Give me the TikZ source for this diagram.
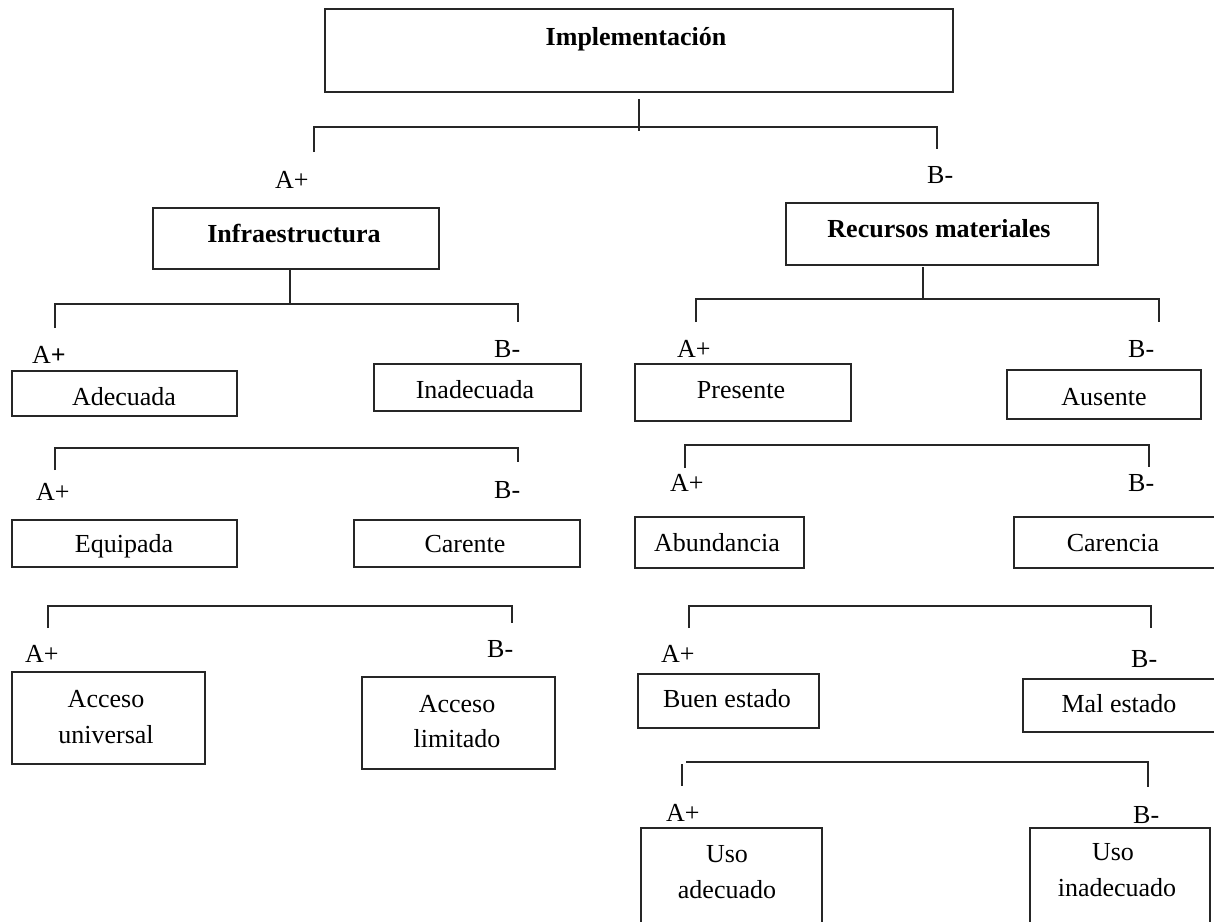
\documentclass[tikz,border=0pt]{standalone}
\usepackage{fontspec}
\setmainfont{Liberation Serif}
\definecolor{linec}{RGB}{38,38,38}
\newcommand\fs{\fontsize{26}{36}\selectfont}
\tikzset{
  box/.style={draw=linec, line width=1.4pt, rectangle, inner sep=0pt, outer sep=0pt, anchor=north west},
  lbl/.style={anchor=base west, inner sep=0pt, font=\fs},
  txt/.style={anchor=base, inner sep=0pt, font=\fs},
  txtb/.style={anchor=base, inner sep=0pt, font=\fs\bfseries},
  conn/.style={draw=linec, line width=1.4pt},
}
\begin{document}
\begin{tikzpicture}[x=1pt,y=-1pt]
\useasboundingbox (0,0) rectangle (1214,921);
\clip (0,0) rectangle (1214,921);
% ---------- boxes ----------
\node[box, minimum width=628pt, minimum height=83pt] (impl)  at (325,9)   {};
\node[box, minimum width=286pt, minimum height=61pt] (infra) at (153,208) {};
\node[box, minimum width=312pt, minimum height=62pt] (rec)   at (786,203) {};
\node[box, minimum width=225pt, minimum height=45pt] (adec)  at (12,371)  {};
\node[box, minimum width=207pt, minimum height=47pt] (inad)  at (374,364) {};
\node[box, minimum width=216pt, minimum height=57pt] (pres)  at (635,364) {};
\node[box, minimum width=194pt, minimum height=49pt] (aus)   at (1007,370){};
\node[box, minimum width=225pt, minimum height=47pt] (equip) at (12,520)  {};
\node[box, minimum width=226pt, minimum height=47pt] (car)   at (354,520) {};
\node[box, minimum width=169pt, minimum height=51pt] (abund) at (635,517) {};
\node[box, minimum width=206pt, minimum height=51pt] (carc)  at (1014,517){};
\node[box, minimum width=193pt, minimum height=92pt] (accu)  at (12,672)  {};
\node[box, minimum width=193pt, minimum height=92pt] (accl)  at (362,677) {};
\node[box, minimum width=181pt, minimum height=54pt] (buen)  at (638,674) {};
\node[box, minimum width=197pt, minimum height=53pt] (mal)   at (1023,679){};
\node[box, minimum width=181pt, minimum height=102pt] (usoa) at (641,828) {};
\node[box, minimum width=180pt, minimum height=102pt] (usoi) at (1030,828){};
% ---------- box texts ----------
\node[txtb] (timpl)  at (636,45)   {Implementación};
\node[txtb] (tinfra) at (294,242)  {Infraestructura};
\node[txtb] (trec)   at (939,237)  {Recursos materiales};
\node[txt]  (tadec)  at (124,405)  {Adecuada};
\node[txt]  (tinad)  at (475,398)  {Inadecuada};
\node[txt]  (tpres)  at (741,398)  {Presente};
\node[txt]  (taus)   at (1104,405) {Ausente};
\node[txt]  (tequip) at (124,552)  {Equipada};
\node[txt]  (tcar)   at (465,552)  {Carente};
\node[txt]  (tabund) at (717,551)  {Abundancia};
\node[txt]  (tcarc)  at (1113,551) {Carencia};
\node[txt]  (taccu1) at (106,707)  {Acceso};
\node[txt]  (taccu2) at (106,743)  {universal};
\node[txt]  (taccl1) at (457,712)  {Acceso};
\node[txt]  (taccl2) at (457,747)  {limitado};
\node[txt]  (tbuen)  at (727,707)  {Buen estado};
\node[txt]  (tmal)   at (1119,712) {Mal estado};
\node[txt]  (tusoa1) at (727,862)  {Uso};
\node[txt]  (tusoa2) at (727,898)  {adecuado};
\node[txt]  (tusoi1) at (1113,860) {Uso};
\node[txt]  (tusoi2) at (1117,896) {inadecuado};
% ---------- A+/B- labels ----------
\node[lbl] (a0) at (275,188)  {A+};
\node[lbl] (b0) at (927,183)  {B-};
\node[lbl] (a1) at (32,363)   {A\textbf{+}};
\node[lbl] (b1) at (494,357)  {B-};
\node[lbl] (a2) at (677,357)  {A+};
\node[lbl] (b2) at (1128,357) {B-};
\node[lbl] (a3) at (36,500)   {A+};
\node[lbl] (b3) at (494,498)  {B-};
\node[lbl] (a4) at (670,491)  {A+};
\node[lbl] (b4) at (1128,491) {B-};
\node[lbl] (a5) at (25,662)   {A+};
\node[lbl] (b5) at (487,657)  {B-};
\node[lbl] (a6) at (661,662)  {A+};
\node[lbl] (b6) at (1131,667) {B-};
\node[lbl] (a7) at (666,821)  {A+};
\node[lbl] (b7) at (1133,823) {B-};
% ---------- bracket end points ----------
\coordinate (k0l) at (314,152);  \coordinate (k0r) at (937,149);
\coordinate (k1l) at (55,328);   \coordinate (k1r) at (518,322);
\coordinate (k2l) at (696,322);  \coordinate (k2r) at (1159,322);
\coordinate (k3l) at (55,470);   \coordinate (k3r) at (518,462);
\coordinate (k4l) at (685,468);  \coordinate (k4r) at (1149,467);
\coordinate (k5l) at (48,628);   \coordinate (k5r) at (512,623);
\coordinate (k6l) at (689,628);  \coordinate (k6r) at (1151,628);
\coordinate (k7s) at (686,762);  \coordinate (k7r) at (1148,787);
\coordinate (k7t) at (682,764);  \coordinate (k7b) at (682,786);
% ---------- connectors ----------
\draw[conn] ([yshift=-7pt]impl.south) -- ++(0,32);
\draw[conn] (k0l) -- (k0l |- 0,127) -| (k0r);
\draw[conn] ([xshift=137pt]infra.south west) -- ++(0,35);
\draw[conn] (k1l) -- (k1l |- 0,304) -| (k1r);
\draw[conn] ([xshift=137pt,yshift=-2pt]rec.south west) -- ++(0,32);
\draw[conn] (k2l) -- (k2l |- 0,299) -| (k2r);
\draw[conn] (k3l) -- (k3l |- 0,448) -| (k3r);
\draw[conn] (k4l) -- (k4l |- 0,445) -| (k4r);
\draw[conn] (k5l) -- (k5l |- 0,606) -| (k5r);
\draw[conn] (k6l) -- (k6l |- 0,606) -| (k6r);
\draw[conn] (k7s) -| (k7r);
\draw[conn] (k7t) -- (k7b);
\end{tikzpicture}
\end{document}
